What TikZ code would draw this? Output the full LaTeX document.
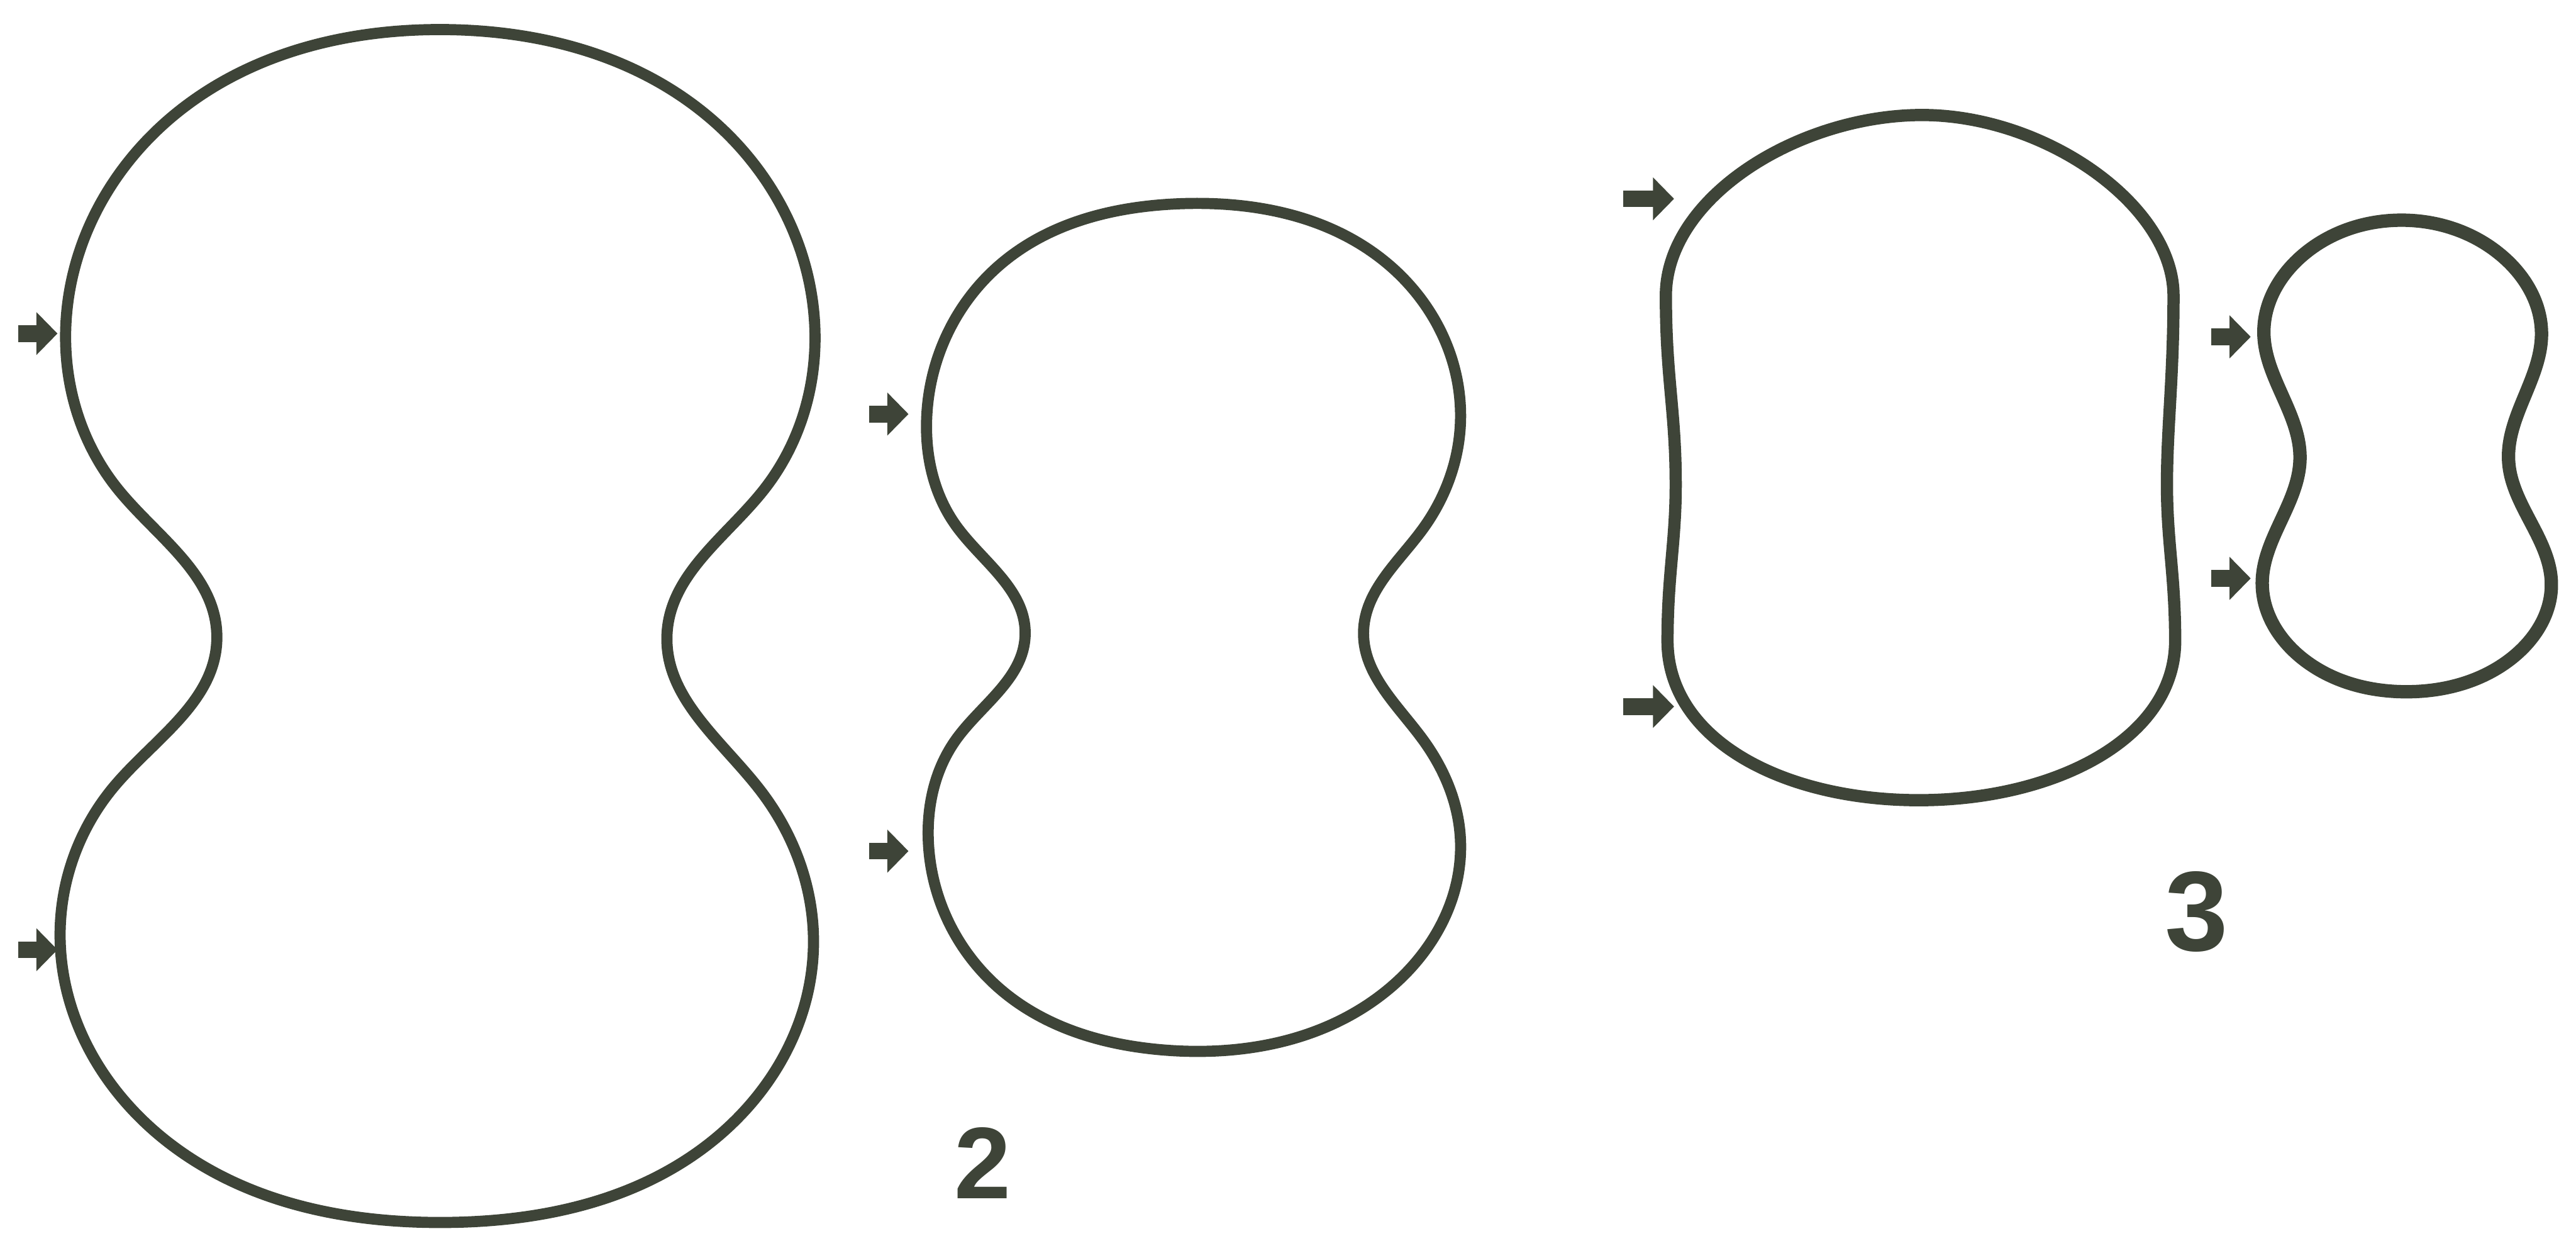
\documentclass[tikz,border=0pt]{standalone}
\usepackage{fontspec}
\setmainfont{Liberation Sans}
\usetikzlibrary{arrows.meta,hobby}
\definecolor{ink}{RGB}{62,68,56}
\begin{document}
\begin{tikzpicture}[x=0.0295cm,y=-0.0295cm,
  outline/.style={draw=ink,line width=0.2cm,line join=round},
  hob/.style={use Hobby shortcut,closed=true},
  marker/.style={ink,line width=0.3cm,-{Triangle[length=0.38cm,width=0.75cm]}},
  lab/.style={text=ink,font=\fontsize{52}{52}\selectfont\bfseries,inner sep=0pt}]
\useasboundingbox (0,0) rectangle (1568,752);
% shape 3 (explicit Bezier curves, tangent-continuous joins)
\begin{scope}
\pgfsetlinewidth{0.22cm}
\pgfsetstrokecolor{ink}
\pgfsetroundjoin
\pgfpathmoveto{\pgfpointxy{1170}{70}}
\pgfpathcurveto{\pgfpointxy{1245}{70}}{\pgfpointxy{1323}{125}}{\pgfpointxy{1323}{180}}
\pgfpathcurveto{\pgfpointxy{1323}{230}}{\pgfpointxy{1319}{260}}{\pgfpointxy{1319}{295}}
\pgfpathcurveto{\pgfpointxy{1319}{330}}{\pgfpointxy{1324}{350}}{\pgfpointxy{1324}{390}}
\pgfpathcurveto{\pgfpointxy{1324}{450}}{\pgfpointxy{1250}{487}}{\pgfpointxy{1168}{487}}
\pgfpathcurveto{\pgfpointxy{1085}{487}}{\pgfpointxy{1015}{450}}{\pgfpointxy{1015}{390}}
\pgfpathcurveto{\pgfpointxy{1015}{350}}{\pgfpointxy{1020}{330}}{\pgfpointxy{1020}{295}}
\pgfpathcurveto{\pgfpointxy{1020}{250}}{\pgfpointxy{1014}{230}}{\pgfpointxy{1014}{180}}
\pgfpathcurveto{\pgfpointxy{1014}{120}}{\pgfpointxy{1095}{70}}{\pgfpointxy{1170}{70}}
\pgfpathclose
\pgfusepath{stroke}
\end{scope}
% shape 1
\begin{scope}
\draw[outline,hob] (270,18) .. (430,70) .. (496,200) .. (465,298) .. (406,386) .. (462,480)
  .. (495,580) .. (429,698) .. (270,744) .. (106,698) .. (37,580) .. (70,478)
  .. (132,388) .. (72,298) .. (40,200) .. (106,70);
\end{scope}
% shape 2
\begin{scope}
\draw[outline,hob] (718,124) .. (844,160) .. (889,256) .. (866,322) .. (830,384) .. (866,450)
  .. (889,512) .. (844,603) .. (708,639) .. (610,603) .. (565,510) .. (582,450)
  .. (624,386) .. (582,320) .. (564,256) .. (610,160);
\end{scope}
% shape 4
\begin{scope}
\draw[outline,hob,line width=0.24cm] (1462,134) .. (1522,155) .. (1547,203) .. (1527,281)
  .. (1553,355) .. (1527,402) .. (1465,421) .. (1403,402) .. (1377,355) .. (1400,279)
  .. (1378,203) .. (1402,155);
\end{scope}
% arrows
\foreach \n/\xa/\xb/\yy in {a/11/35/203, b/11/35/578, c/529/553/252, d/529/553/518,
  e/988/1019/121, f/988/1019/430, g/1346/1370/205, h/1346/1370/352}{
  \coordinate (\n s) at (\xa,\yy);
  \coordinate (\n t) at (\xb,\yy);
  \draw[marker] (\n s) -- (\n t);
}
\node[lab] (two) at (598,708) {2};
\node[lab,font=\fontsize{58}{58}\selectfont\bfseries] (three) at (1337,555) {3};
\end{tikzpicture}
\end{document}
